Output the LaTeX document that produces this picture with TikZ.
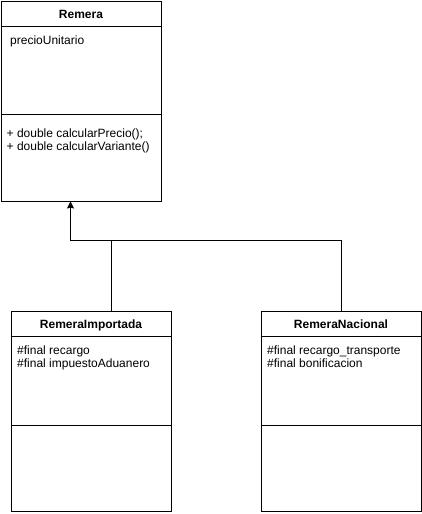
\documentclass[tikz,border=0pt]{standalone}
\usepackage{fontspec}
\setmainfont{Liberation Sans}
\usetikzlibrary{calc}
\usetikzlibrary{arrows.meta}
\tikzstyle{classbox}=[%
  draw,
  line width=1pt,
  minimum width=160pt,
  minimum height=200pt,
  anchor=north west,
  inner sep=0pt
]
\tikzstyle{classname}=[%
  font=\fontsize{12}{13}\selectfont\bfseries,
  anchor=base,
  inner sep=0pt
]
\tikzstyle{member}=[%
  font=\fontsize{12}{13}\selectfont,
  anchor=base west,
  align=left,
  inner sep=0pt
]
\tikzstyle{extends}=[%
  line width=1pt,
  -{Stealth[length=7pt,width=7pt,inset=1pt]}
]

\begin{document}
\begin{tikzpicture}[x=1pt, y=-1pt]
    \useasboundingbox (0,0) rectangle (422,514);

    \node[classbox] (remera) at (0.5, 0.5) {};
    \node[classbox] (imp) at (10.5, 310.5) {};
    \node[classbox] (nac) at (260.5, 310.5) {};

    % header and member separators
    \foreach \c/\sep in {remera/88, imp/89, nac/89} {%
      \draw[line width=1pt] ([yshift=-25.5pt]\c.north west) -- ([yshift=-25.5pt]\c.north east);
      \draw[line width=1pt] ([yshift=-\sep pt-25.5pt]\c.north west) -- ([yshift=-\sep pt-25.5pt]\c.north east);
    }

    \foreach \c/\t in {remera/Remera, imp/RemeraImportada, nac/RemeraNacional} {%
      \node[classname] (\c-name) at ([yshift=-17.5pt]\c.north) {\t};
    }

    % base anchor = baseline of the last line
    \node[member] (remera-attr) at ([xshift=9.5pt, yshift=-43.5pt]remera.north west) {precioUnitario};
    \node[member] (remera-ops) at ([xshift=6pt, yshift=-150pt]remera.north west)
      {+ double calcularPrecio();\\+ double calcularVariante()};
    \node[member] (imp-attr) at ([xshift=6.5pt, yshift=-57pt]imp.north west)
      {\#final recargo\\\#final impuestoAduanero};
    \node[member] (nac-attr) at ([xshift=6.5pt, yshift=-57pt]nac.north west)
      {\#final recargo\_transporte\\\#final bonificacion};

    \coordinate (bus) at (70.5, 240.5);
    \draw[extends] ([xshift=20pt]imp.north) |- (bus) -- (remera.south -| bus);
    \draw[line width=1pt] (nac.north) |- ([xshift=20pt]imp.north |- bus);
  \end{tikzpicture}
\end{document}
